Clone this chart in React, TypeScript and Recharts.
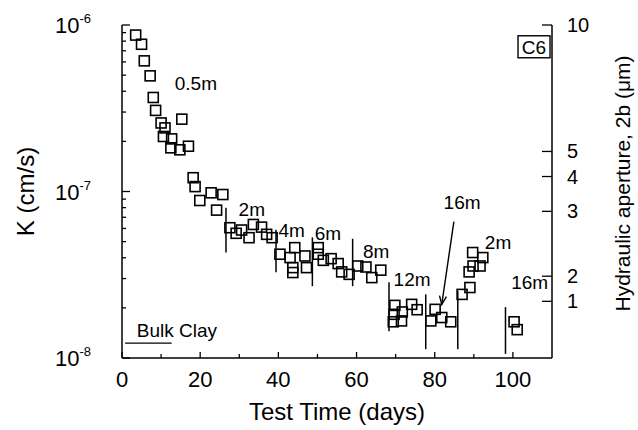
import React from "react"
import { ScatterChart, Scatter, XAxis, YAxis, ReferenceLine, ReferenceDot } from "recharts"

// test time (days) and hydraulic conductivity K (cm/s)
const days = [
    3.5, 5.0, 5.7, 7.2, 8.0, 8.6, 10.0, 11.0, 10.6, 12.7, 12.5, 14.8, 15.3, 17.0, 18.2, 18.7, 19.9, 22.8, 25.8, 24.2,
    27.6, 29.2, 30.6, 32.5, 33.6, 35.7, 37.0, 38.4,
    40.4, 43.0, 44.2, 43.7, 43.7, 46.8, 47.2,
    50.2, 50.2, 51.5, 53.5, 55.3, 56.2, 58.1,
    60.3, 62.4, 63.9, 66.2,
    69.8, 69.6, 69.4, 71.7, 71.5, 74.1, 75.5,
    79.0, 80.1, 81.8, 84.1,
    87.0, 89.0, 88.8, 89.8, 91.6, 89.7, 92.3,
    100.3, 101.1,
]
const conductivity = [
    8.7e-7, 7.66e-7, 6.09e-7, 4.95e-7, 3.67e-7, 3.07e-7, 2.58e-7, 2.41e-7, 2.14e-7, 2.07e-7, 1.83e-7, 1.78e-7, 2.72e-7, 1.87e-7, 1.21e-7, 1.07e-7, 8.83e-8, 9.82e-8, 9.59e-8, 7.73e-8,
    6.06e-8, 5.61e-8, 5.87e-8, 5.28e-8, 6.34e-8, 6.11e-8, 5.53e-8, 5.28e-8,
    4.2e-8, 4.01e-8, 4.6e-8, 3.49e-8, 3.26e-8, 4.1e-8, 3.49e-8,
    4.6e-8, 4.2e-8, 3.86e-8, 3.95e-8, 3.69e-8, 3.29e-8, 3.18e-8,
    3.57e-8, 3.52e-8, 3.04e-8, 3.37e-8,
    2.07e-8, 1.83e-8, 1.65e-8, 1.89e-8, 1.67e-8, 2.1e-8, 1.95e-8,
    1.67e-8, 1.96e-8, 1.75e-8, 1.65e-8,
    2.41e-8, 2.65e-8, 3.29e-8, 3.57e-8, 3.57e-8, 4.3e-8, 4.01e-8,
    1.65e-8, 1.48e-8,
]

// vertical separators between head stages
const stageDays = [26.6, 39.4, 48.7, 59.0, 68.3, 77.7, 85.9, 98.1]
const stageTop = [8.0e-8, 5.9e-8, 5.3e-8, 5.2e-8, 2.85e-8, 2.41e-8, 2.53e-8, 2.02e-8]
const stageBottom = [4.3e-8, 3.27e-8, 2.7e-8, 2.7e-8, 1.45e-8, 1.13e-8, 1.13e-8, 1.06e-8]

const stageNames = ["0.5m", "2m", "4m", "6m", "8m", "12m", "16m", "2m", "16m"]
const stageLabelDays = [18.9, 33.2, 43.4, 52.7, 65.0, 74.2, 87.0, 96.2, 104.3]
const stageLabelK = [4.5e-7, 7.8e-8, 5.9e-8, 5.6e-8, 4.4e-8, 2.97e-8, 8.6e-8, 5.0e-8, 2.85e-8]

const arrowFrom = { day: 84.9, k: 6.6e-8 }
const arrowTo = { day: 81.8, k: 2.1e-8 }

const bulkClayK = 1.23e-8
const bulkClayDays = [0.8, 12.7]

const xTicks = [0, 10, 20, 30, 40, 50, 60, 70, 80, 90, 100]
const kTicks = [
    1e-8, 2e-8, 3e-8, 4e-8, 5e-8, 6e-8, 7e-8, 8e-8, 9e-8,
    1e-7, 2e-7, 3e-7, 4e-7, 5e-7, 6e-7, 7e-7, 8e-7, 9e-7, 1e-6,
]
const apertureLabels = ["10", "5", "4", "3", "2", "1"]
const apertureK = [1e-6, 1.74e-7, 1.23e-7, 7.6e-8, 3.1e-8, 2.19e-8]

const font = "'Liberation Sans', Arial, sans-serif"

const data = days.map((d, i) => ({ day: d, k: conductivity[i] }))

const OpenSquare = (props: any) => (
    <rect x={props.cx - 5} y={props.cy - 5} width={10} height={10} fill="none" stroke="#000" strokeWidth={1.6} />
)

const BottomTick = ({ x, y, payload }: any) => {
    const v = payload.value
    const major = v % 20 === 0
    return (
        <g>
            <line x1={x} x2={x} y1={y} y2={y - (major ? 6 : 4)} stroke="#000" strokeWidth={1.3} />
            {major && (
                <text x={x} y={y + 29} textAnchor="middle" fontSize={22} fontFamily={font} fill="#000">{v}</text>
            )}
        </g>
    )
}

const LeftTick = ({ x, y, payload }: any) => {
    const v = payload.value
    const exp = Math.round(Math.log10(v))
    const major = Math.abs(v - Math.pow(10, exp)) / v < 1e-6
    return (
        <g>
            <line x1={x} x2={x + (major ? 8 : 4)} y1={y} y2={y} stroke="#000" strokeWidth={1.3} />
            {major && (
                <text x={x - 67} y={y + 8} fontSize={22} fontFamily={font} fill="#000">
                    10<tspan dy={-10} fontSize={13}>{exp}</tspan>
                </text>
            )}
        </g>
    )
}

const RightTick = ({ x, y, index }: any) => (
    <g>
        <line x1={x} x2={x - 10} y1={y} y2={y} stroke="#000" strokeWidth={1.3} />
        <text x={x + 15} y={y + 7} fontSize={20} fontFamily={font} fill="#000">{apertureLabels[index]}</text>
    </g>
)

const StageLabel = (text: string, anchor: string = "middle") => (p: any) => (
    <text x={p.cx} y={p.cy + 7} textAnchor={anchor} fontSize={19} fontFamily={font} fill="#000">{text}</text>
)

const Arrow = (p: any) => {
    const ang = Math.atan2(p.y2 - p.y1, p.x2 - p.x1)
    const len = 9
    const a1 = ang + Math.PI - 0.4
    const a2 = ang + Math.PI + 0.4
    return (
        <g>
            <line x1={p.x1} y1={p.y1} x2={p.x2} y2={p.y2} stroke="#000" strokeWidth={1.4} />
            <polyline
                points={`${p.x2 + len * Math.cos(a1)},${p.y2 + len * Math.sin(a1)} ${p.x2},${p.y2} ${p.x2 + len * Math.cos(a2)},${p.y2 + len * Math.sin(a2)}`}
                fill="none" stroke="#000" strokeWidth={1.4}
            />
        </g>
    )
}

const SampleBox = (p: any) => (
    <g>
        <rect x={p.cx - 16} y={p.cy - 11} width={32} height={22} fill="none" stroke="#000" strokeWidth={1.4} />
        <text x={p.cx} y={p.cy + 7} textAnchor="middle" fontSize={19} fontFamily={font} fill="#000">C6</text>
    </g>
)

export default function App() {
    return (
        <div style={{ position: "absolute", left: 0, top: 0 }}>
            <ScatterChart width={638} height={430} margin={{ top: 25, right: 0, bottom: 0, left: 0 }}>
                <XAxis
                    dataKey="day"
                    type="number"
                    domain={[0, 110]}
                    ticks={xTicks}
                    interval={0}
                    height={72}
                    tickSize={0}
                    tickMargin={0}
                    tick={<BottomTick />}
                    axisLine={{ stroke: "#000", strokeWidth: 1.5 }}
                    label={{
                        content: ({ viewBox }: any) => (
                            <text x={viewBox.x + viewBox.width / 2} y={viewBox.y + 62} textAnchor="middle" fontSize={24} fontFamily={font} fill="#000">
                                Test Time (days)
                            </text>
                        ),
                    }}
                />
                <XAxis xAxisId="top" orientation="top" type="number" domain={[0, 110]} height={0} tick={false} tickLine={false} axisLine={{ stroke: "#000", strokeWidth: 1.5 }} />
                <YAxis
                    dataKey="k"
                    type="number"
                    scale="log"
                    domain={[1e-8, 1e-6]}
                    allowDataOverflow
                    ticks={kTicks}
                    interval={0}
                    width={122}
                    tickSize={0}
                    tickMargin={0}
                    tick={<LeftTick />}
                    axisLine={{ stroke: "#000", strokeWidth: 1.5 }}
                    label={{
                        content: ({ viewBox }: any) => (
                            <text x={25} y={viewBox.y + viewBox.height / 2} textAnchor="middle" dominantBaseline="central" transform={`rotate(-90 25 ${viewBox.y + viewBox.height / 2})`} fontSize={24} fontFamily={font} fill="#000">
                                K (cm/s)
                            </text>
                        ),
                    }}
                />
                <YAxis
                    yAxisId="right"
                    orientation="right"
                    type="number"
                    scale="log"
                    domain={[1e-8, 1e-6]}
                    allowDataOverflow
                    ticks={apertureK}
                    interval={0}
                    width={86}
                    tickSize={0}
                    tickMargin={0}
                    tick={<RightTick />}
                    axisLine={{ stroke: "#000", strokeWidth: 1.5 }}
                    label={{
                        content: ({ viewBox }: any) => (
                            <text x={622} y={viewBox.y + viewBox.height / 2 - 8} textAnchor="middle" dominantBaseline="central" transform={`rotate(-90 622 ${viewBox.y + viewBox.height / 2 - 8})`} fontSize={21} fontFamily={font} fill="#000">
                                Hydraulic aperture, 2b (μm)
                            </text>
                        ),
                    }}
                />

                {stageDays.map((d, i) => (
                    <ReferenceLine key={"s" + i} segment={[{ x: d, y: stageTop[i] }, { x: d, y: stageBottom[i] }]} stroke="#000" strokeWidth={1.5} ifOverflow="visible" />
                ))}
                <ReferenceLine segment={[{ x: bulkClayDays[0], y: bulkClayK }, { x: bulkClayDays[1], y: bulkClayK }]} stroke="#000" strokeWidth={1.3} ifOverflow="visible" />
                <ReferenceLine segment={[{ x: arrowFrom.day, y: arrowFrom.k }, { x: arrowTo.day, y: arrowTo.k }]} shape={Arrow} ifOverflow="visible" />

                <Scatter data={data} shape={OpenSquare} isAnimationActive={false} />

                {stageNames.map((name, i) => (
                    <ReferenceDot key={"l" + i} x={stageLabelDays[i]} y={stageLabelK[i]} r={0} ifOverflow="visible" shape={StageLabel(name)} />
                ))}
                <ReferenceDot x={3.8} y={1.47e-8} r={0} ifOverflow="visible" shape={StageLabel("Bulk Clay", "start")} />
                <ReferenceDot x={105.4} y={7.4e-7} r={0} ifOverflow="visible" shape={SampleBox} />
            </ScatterChart>
        </div>
    )
}
